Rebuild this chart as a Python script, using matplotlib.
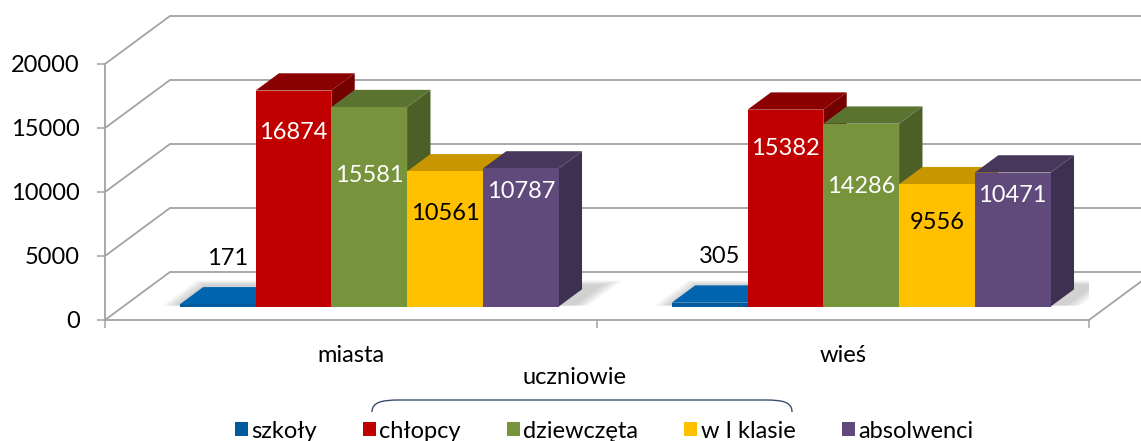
# 3D-style clustered bar chart: schools and pupils, towns vs villages
import matplotlib.pyplot as plt
from matplotlib.patches import Polygon, Patch, PathPatch
from matplotlib.path import Path

plt.rcParams['font.family'] = ['Lato', 'DejaVu Sans']

categories = ['miasta', 'wieś']
series = ['szkoły', 'chłopcy', 'dziewczęta', 'w I klasie', 'absolwenci']
szkoly = [171, 305]
chlopcy = [16874, 15382]
dziewczeta = [15581, 14286]
w_i_klasie = [10561, 9556]
absolwenci = [10787, 10471]
values = [szkoly, chlopcy, dziewczeta, w_i_klasie, absolwenci]
yticks = [0, 5000, 10000, 15000, 20000]

front_colors = ['#005A9E', '#C00000', '#77933C', '#FFC000', '#604A7B']
top_colors = ['#0064AE', '#8B0000', '#5B7330', '#C89700', '#47385B']
side_colors = ['#004A82', '#740000', '#4C5F27', '#B88A00', '#3E3050']
label_colors = ['black', 'white', 'white', 'black', 'white']
label_frac = [None, 0.805, 0.655, 0.69, 0.83]

W, H = 1141, 441
# depth of the box in data units (oblique projection)
DX = 65 / 492
DY = 3750
d0, d1 = 0.28, 0.64
bw = 0.154

def proj(x, v, d):
    return (x + d * DX, v + d * DY)

fig = plt.figure(figsize=(W / 100, H / 100), dpi=100)
ax = fig.add_axes([105 / W, 121 / H, 984 / W, 256 / H])
ax.set_xlim(-0.5, 1.5)
ax.set_ylim(0, 20000)
ax.set_facecolor('none')

grid_c = '#A3A3A3'
for v in yticks:
    xs, ys = zip(proj(-0.5, v, 0), proj(-0.5, v, 1), proj(1.5, v, 1))
    ax.plot(xs, ys, color=grid_c, lw=1.3, clip_on=False, zorder=1)
xs, ys = zip(proj(1.5, 0, 0), proj(1.5, 0, 1))
ax.plot(xs, ys, color=grid_c, lw=1.3, clip_on=False, zorder=1)

for sp in ['top', 'right']:
    ax.spines[sp].set_visible(False)
for sp in ['left', 'bottom']:
    ax.spines[sp].set_color(grid_c)
    ax.spines[sp].set_linewidth(1.3)

ax.set_yticks(yticks)
ax.tick_params(axis='y', length=6, width=1.1, color=grid_c, pad=12, labelsize=17)
ax.set_xticks([0, 1])
ax.set_xticklabels(categories)
ax.set_xticks([-0.5, 0.5, 1.5], minor=True)
ax.tick_params(axis='x', which='major', length=0, pad=18, labelsize=17)
ax.tick_params(axis='x', which='minor', length=6, width=1.1, color=grid_c)

# soft floor shadow behind each group
for c in range(len(categories)):
    gx0 = c - 2.5 * bw
    gx1 = c + 2.5 * bw
    for i in range(8):
        e = 0.004 * i
        pts = [proj(gx0 - e - 0.01, 0, d0 + 0.02), proj(gx1 + e + 0.03, 0, d0 + 0.02),
               proj(gx1 + e + 0.03, 0, d1 + 0.1 + e * 3), proj(gx0 - e - 0.01, 0, d1 + 0.1 + e * 3)]
        ax.add_patch(Polygon(pts, closed=True, color='#707070', alpha=0.045, lw=0, zorder=2))

# bars, left to right so right neighbours hide side faces
for c in range(len(categories)):
    for k, vals in enumerate(values):
        v = vals[c]
        x0 = c + (k - 2.5) * bw
        x1 = x0 + bw
        side = [proj(x1, 0, d0), proj(x1, 0, d1), proj(x1, v, d1), proj(x1, v, d0)]
        top = [proj(x0, v, d0), proj(x1, v, d0), proj(x1, v, d1), proj(x0, v, d1)]
        ax.add_patch(Polygon(side, closed=True, color=side_colors[k], lw=0, zorder=3))
        ax.add_patch(Polygon(top, closed=True, color=top_colors[k], lw=0, zorder=3))
        ax.bar(x0 + d0 * DX, v, width=bw, bottom=d0 * DY, align='edge',
               color=front_colors[k], lw=0, zorder=3)
        if label_frac[k] is None:
            lx, ly = proj(x0 + bw / 2 + 0.02, v + 3600, d0)
        else:
            lx, ly = proj(x0 + bw / 2, v * label_frac[k], d0)
        ax.text(lx, ly, str(v), ha='center', va='center', fontsize=17,
                color=label_colors[k], zorder=5)

# bracket over pupil series
def fx(x):
    return x / W

def fy(y):
    return 1 - y / H

verts = [(fx(372), fy(412)), (fx(372), fy(402)), (fx(382), fy(400)), (fx(400), fy(400)),
         (fx(765), fy(400)), (fx(783), fy(400)), (fx(792), fy(402)), (fx(792), fy(412))]
codes = [Path.MOVETO, Path.CURVE4, Path.CURVE4, Path.CURVE4,
         Path.LINETO, Path.CURVE4, Path.CURVE4, Path.CURVE4]
fig.patches.append(PathPatch(Path(verts, codes), transform=fig.transFigure,
                             fill=False, edgecolor='#3B4E6E', lw=1.0))
fig.text(fx(575), fy(378), 'uczniowie', ha='center', va='center', fontsize=17)

handles = [Patch(facecolor=front_colors[k], edgecolor='none') for k in range(len(series))]
fig.legend(handles, series, loc='center', bbox_to_anchor=(fx(604), fy(431)), ncol=5,
           frameon=False, fontsize=17, handlelength=0.55, handleheight=0.55,
           handletextpad=0.15, columnspacing=1.95, borderaxespad=0, borderpad=0)

fig.savefig('out.png', dpi=100)
